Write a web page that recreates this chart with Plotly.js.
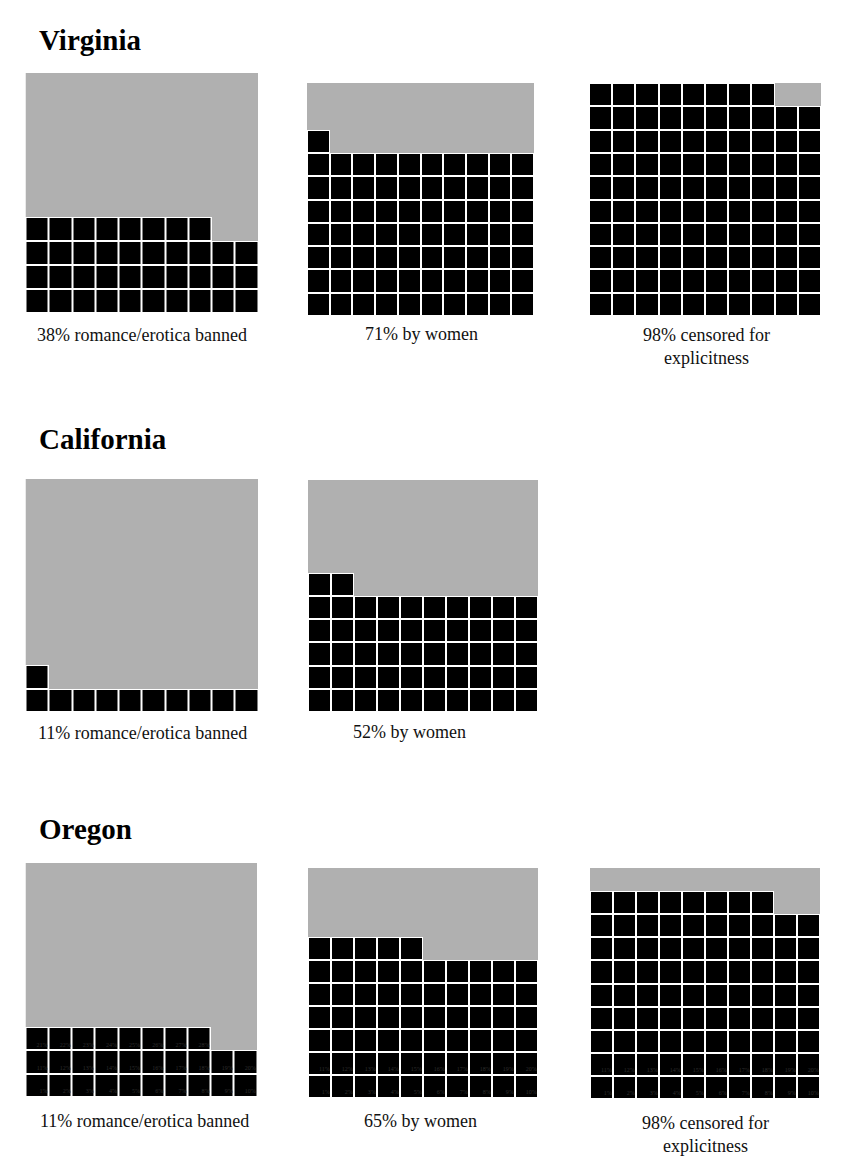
<!DOCTYPE html>
<html><head><meta charset="utf-8">
<script src="https://cdn.plot.ly/plotly-3.0.1.min.js"></script>
<style>html,body{margin:0;padding:0;background:#fff}</style>
</head><body><div id="chart" style="width:852px;height:1176px"></div>
<script>
// ---- data ----
const states = ["Virginia", "California", "Oregon"];
const chartState = [0, 0, 0, 1, 1, 2, 2, 2];
const filledCells = [38, 71, 98, 11, 52, 28, 65, 88];
const captions = [
  "38% romance/erotica banned", "71% by women", "98% censored for<br>explicitness",
  "11% romance/erotica banned", "52% by women",
  "11% romance/erotica banned", "65% by women", "98% censored for<br>explicitness"
];
const cellLabelCount = [0, 0, 0, 0, 0, 28, 20, 20];
const gridSize = 10;

// ---- layout (pixels) ----
const W = 852, H = 1176;
const boxes = [ // x0, x1, y0, y1
  [25.5, 258, 73, 313], [307, 534, 83, 316], [589, 821, 83, 316],
  [25.5, 258, 479, 712], [308, 538, 480, 712],
  [25.5, 257, 863, 1097], [308, 538, 868, 1098], [590, 820, 868, 1099]
];
const capPos = [ // center x, baseline y
  [142, 340], [421, 339], [706, 340],
  [142, 738], [409, 737],
  [144, 1126], [420, 1126], [705, 1128]
];
const titlePos = [[38, 49], [38, 448], [38, 838]];
const px = x => x / W, py = y => 1 - y / H;
const SERIF = "Liberation Serif, Times New Roman, serif";

const data = [];
const layout = {
  width: W, height: H, margin: {l: 0, r: 0, t: 0, b: 0},
  paper_bgcolor: "#fff", plot_bgcolor: "#fff", showlegend: false,
  annotations: []
};

filledCells.forEach((n, i) => {
  const k = i === 0 ? "" : String(i + 1);
  const xa = "x" + k, ya = "y" + k;
  const zFill = [], zEmpty = [];
  for (let r = 0; r < gridSize; r++) {
    const rf = [], re = [];
    for (let c = 0; c < gridSize; c++) {
      const idx = r * gridSize + c;
      rf.push(idx < n ? 1 : null);
      re.push(idx < n ? null : 1);
    }
    zFill.push(rf); zEmpty.push(re);
  }
  const cols = [...Array(gridSize).keys()];
  data.push({type: "heatmap", z: zEmpty, x: cols, y: cols, xaxis: xa, yaxis: ya,
    zmin: 0, zmax: 1, colorscale: [[0, "#b0b0b0"], [1, "#b0b0b0"]], showscale: false, hoverinfo: "skip"});
  data.push({type: "heatmap", z: zFill, x: cols, y: cols, xaxis: xa, yaxis: ya,
    zmin: 0, zmax: 1, colorscale: [[0, "#000"], [1, "#000"]], showscale: false, hoverinfo: "skip",
    xgap: 2, ygap: 2});
  if (cellLabelCount[i] > 0) {
    const lx = [], ly = [], lt = [];
    for (let j = 0; j < cellLabelCount[i]; j++) {
      lx.push(j % gridSize + 0.45); ly.push(Math.floor(j / gridSize) - 0.28); lt.push((j + 1) + "%");
    }
    data.push({type: "scatter", mode: "text", x: lx, y: ly, text: lt, xaxis: xa, yaxis: ya,
      textposition: "middle left", textfont: {family: SERIF, size: 6, color: "#2e2e2e"}, hoverinfo: "skip"});
  }
  const b = boxes[i];
  const axBase = {range: [-0.5, 9.5], visible: false, showgrid: false, zeroline: false, fixedrange: true};
  layout["xaxis" + k] = Object.assign({}, axBase, {domain: [px(b[0]), px(b[1])], anchor: ya});
  layout["yaxis" + k] = Object.assign({}, axBase, {domain: [py(b[3]), py(b[2])], anchor: xa});
  layout.annotations.push({
    text: captions[i], xref: "paper", yref: "paper", x: px(capPos[i][0]), y: py(capPos[i][1] - 17),
    xanchor: "center", yanchor: "top", showarrow: false, align: "center",
    font: {family: SERIF, size: 18, color: "#111"}
  });
});

states.forEach((s, i) => {
  layout.annotations.push({
    text: "<b>" + s + "</b>", xref: "paper", yref: "paper", x: px(titlePos[i][0] - 1), y: py(titlePos[i][1] - 27),
    xanchor: "left", yanchor: "top", showarrow: false,
    font: {family: SERIF, size: 29, color: "#000"}
  });
});

Plotly.newPlot("chart", data, layout, {staticPlot: true, displayModeBar: false});
</script></body></html>
